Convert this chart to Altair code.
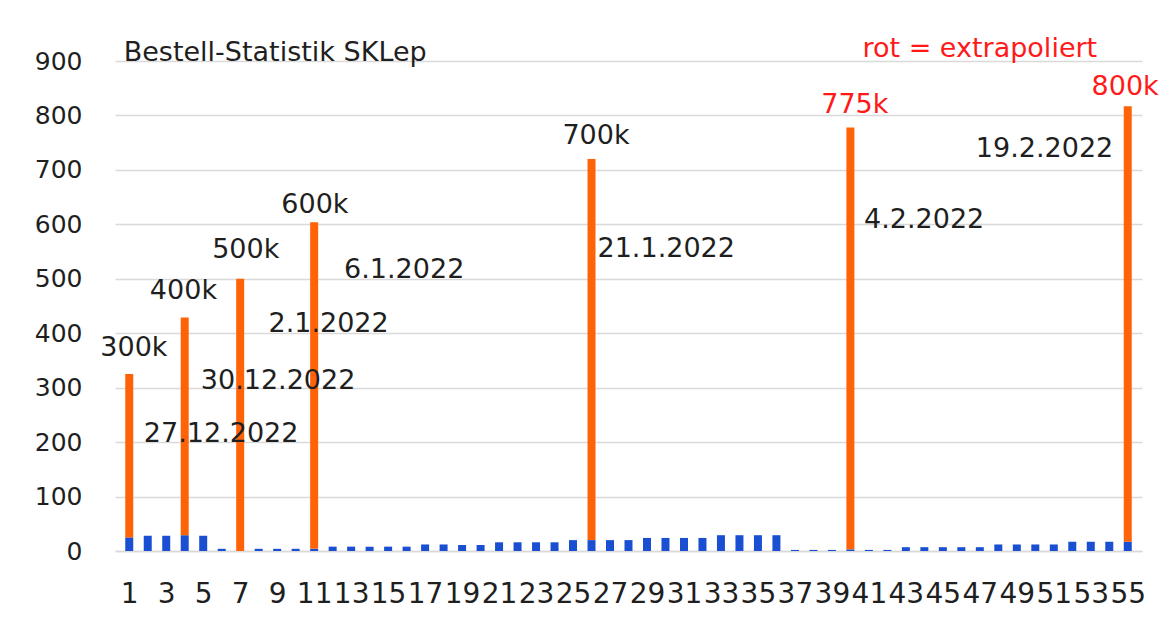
import altair as alt
import pandas as pd

# --- data -------------------------------------------------------------
days = list(range(1, 56))
daily = [25, 28, 28, 29, 28, 4, 0, 4, 4, 4, 4, 8, 8, 8, 8, 8, 12, 12, 11, 11,
         16, 16, 16, 16, 20, 20, 20, 20, 24, 24, 24, 24, 29, 29, 29, 29,
         2, 2, 2, 3, 2, 2, 7, 7, 7, 7, 7, 12, 12, 12, 12, 17, 17, 17, 17]
milestone_days = [1, 4, 7, 11, 26, 40, 55]
milestone_vals = [300, 400, 500, 600, 700, 775, 800]

# annotation texts (x in day units, y in value units = baseline)
label_texts = ["300k", "400k", "500k", "600k", "700k", "775k", "800k",
               "27.12.2022", "30.12.2022", "2.1.2022", "6.1.2022",
               "21.1.2022", "4.2.2022", "19.2.2022",
               "rot = extrapoliert"]
label_x = [1.25, 3.93, 7.3, 11.04, 26.24, 40.24, 54.86,
           5.97, 9.05, 11.78, 15.87, 30.04, 43.99, 50.5, 47.0]
label_y = [358, 462, 538, 620, 747, 804, 837,
           200, 298, 402, 501, 540, 594, 724, 907]
label_col = ["black"] * 5 + ["red"] * 2 + ["black"] * 7 + ["red"]

title_text = ["Bestell-Statistik SKLep"]
title_x = [0.7]
title_y = [900.6]

x_tick_values = list(range(1, 56, 2))
y_tick_values = list(range(0, 901, 100))

# --- tables -----------------------------------------------------------
rows = []
for d, v in zip(days, daily):
    rows.append({"Tag": d, "Serie": "Bestellungen", "Wert": v, "ord": 0})
for d, v in zip(milestone_days, milestone_vals):
    rows.append({"Tag": d, "Serie": "Meilenstein", "Wert": v, "ord": 1})
bars_df = pd.DataFrame(rows)

labels_df = pd.DataFrame({"text": label_texts, "x": label_x,
                          "y": label_y, "col": label_col})
title_df = pd.DataFrame({"text": title_text, "x": title_x, "y": title_y})

FONT = "DejaVu Sans"
TXT = "#1f1f1f"
GRID = "#d9d9d9"

x_scale = alt.Scale(domain=[0.5, 55.5], nice=False, zero=False)
y_scale = alt.Scale(domain=[0, 900], nice=False)

x_axis = alt.Axis(values=x_tick_values, format="d", title=None,
                  grid=False, ticks=False, tickSize=0,
                  domainColor=GRID, domainWidth=1.5,
                  labelFont=FONT, labelFontSize=28, labelColor=TXT,
                  labelPadding=29, labelOverlap=False, labelFlush=False,
                  labelBound=False)
y_axis = alt.Axis(values=y_tick_values, title=None,
                  domain=False, ticks=False, tickSize=0,
                  gridColor=GRID, gridWidth=1.5,
                  labelFont=FONT, labelFontSize=25, labelColor=TXT,
                  labelPadding=33, labelOverlap=False)

bars = alt.Chart(bars_df).mark_bar(size=8).encode(
    x=alt.X("Tag:Q", scale=x_scale, axis=x_axis),
    y=alt.Y("Wert:Q", stack="zero", scale=y_scale, axis=y_axis),
    color=alt.Color("Serie:N",
                    scale=alt.Scale(domain=["Bestellungen", "Meilenstein"],
                                    range=["#1a4fd1", "#ff6308"]),
                    legend=None),
    order=alt.Order("ord:Q"),
)

labels = alt.Chart(labels_df).mark_text(
    font=FONT, fontSize=27, align="center", baseline="alphabetic", clip=False
).encode(
    x=alt.X("x:Q", scale=x_scale, axis=x_axis),
    y=alt.Y("y:Q", scale=y_scale, axis=y_axis),
    text="text:N",
    color=alt.Color("col:N", scale=alt.Scale(domain=["black", "red"],
                                             range=[TXT, "#ff1a1a"]),
                    legend=None),
)

title = alt.Chart(title_df).mark_text(
    font=FONT, fontSize=27, align="left", baseline="alphabetic", color=TXT
).encode(
    x=alt.X("x:Q", scale=x_scale, axis=x_axis),
    y=alt.Y("y:Q", scale=y_scale, axis=y_axis),
    text="text:N",
)

chart = alt.layer(bars, labels, title).resolve_scale(color="independent").properties(
    width=1027, height=490,
    background="white",
    autosize=alt.AutoSizeParams(type="none"),
    padding={"left": 107, "top": 53, "right": 20, "bottom": 70},
).configure_view(strokeWidth=0, stroke="transparent")

chart.save("out.html", embed_options={"renderer": "svg", "actions": False})
